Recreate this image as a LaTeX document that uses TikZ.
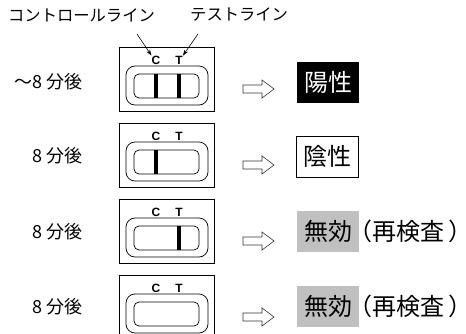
\documentclass[tikz,border=0pt]{standalone}
\usepackage{fontspec}
\setmainfont{Noto Sans CJK JP}
\newfontfamily\latinbold{Liberation Sans}
\usetikzlibrary{arrows.meta}
\definecolor{invalidgray}{RGB}{192,192,192}
\tikzset{
  timelbl/.style={anchor=east,inner sep=0pt,font=\fontsize{18}{18}\selectfont},
  toplbl/.style={anchor=west,inner sep=0pt,font=\fontsize{16.3}{16}\selectfont},
  letter/.style={inner sep=0pt,font=\latinbold\bfseries\fontsize{12}{12}\selectfont},
  result/.style={minimum width=62pt,minimum height=41pt,inner sep=0pt,font=\fontsize{24}{24}\selectfont},
  band/.style={line width=3.5pt},
  hollow/.style={draw=black!80,fill=white,line width=0.6pt}
}
% one test strip, #1 = top edge, #2 = row name
\newcommand{\stripcard}[2]{%
  \draw[line width=0.7pt] (119,#1) rectangle (214,#1+64);%
  \draw[line width=0.7pt,rounded corners=9pt] (126,#1+19) rectangle (208,#1+58);%
  \draw[line width=0.7pt,rounded corners=5pt] (134,#1+27) rectangle (199,#1+51);%
  \node[letter] (#2C) at (156,#1+13) {C};%
  \node[letter] (#2T) at (179,#1+13) {T};%
  \draw[hollow] (243,#1+38) -- (262,#1+38) -- (262,#1+33) -- (274,#1+42)
    -- (262,#1+51) -- (262,#1+46) -- (243,#1+46) -- cycle;%
}
\begin{document}
\begin{tikzpicture}[x=1pt,y=-1pt]
  \useasboundingbox (0,0) rectangle (466,334);
  % labels on top
  \node[toplbl] (ctrl) at (8,15) {コントロールライン};
  \node[toplbl] (test) at (190,15) {テストライン};
  \coordinate (ctrlend) at (137,34);
  \coordinate (testend) at (198,34);
  % cards
  \stripcard{47}{one}
  \stripcard{123}{two}
  \stripcard{199}{three}
  \stripcard{275}{four}
  \draw[-{Stealth[length=6pt,width=4pt]},line width=0.6pt] (ctrlend) -- (oneC.north west);
  \draw[-{Stealth[length=6pt,width=4pt]},line width=0.6pt] (testend) -- (oneT.north east);
  % bands
  \draw[band] (156,74) -- (156,98);%
  \draw[band] (179,74) -- (179,98);%
  \draw[band] (156,150) -- (156,174);%
  \draw[band] (179,226) -- (179,250);%
  % times
  \node[timelbl] (tone) at (83,82) {～8 分後};
  \node[timelbl] (ttwo) at (83,156) {8 分後};
  \node[timelbl] (tthree) at (83,232) {8 分後};
  \node[timelbl] (tfour) at (83,307) {8 分後};
  % results
  \node[result,fill=black,text=white] (pos) at (328,82.5) {陽性};
  \node[result,draw,line width=0.7pt] (neg) at (327,156.5) {陰性};
  \node[result,fill=invalidgray] (invone) at (328,231.5) {無効};
  \node[result,fill=invalidgray] (invtwo) at (328,306.5) {無効};
  \node[result,anchor=west,minimum width=0pt] (reone) at (invone.east) {\kern-11pt（再検査\kern4pt）\kern-14pt};
  \node[result,anchor=west,minimum width=0pt] (retwo) at (invtwo.east) {\kern-11pt（再検査\kern4pt）\kern-14pt};
\end{tikzpicture}
\end{document}
